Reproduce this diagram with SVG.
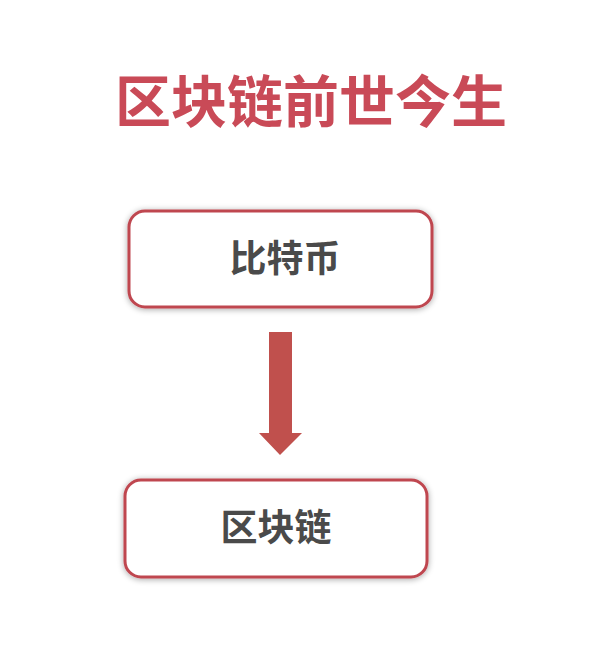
<svg xmlns="http://www.w3.org/2000/svg" width="607" height="662" viewBox="0 0 607 662">
<defs>
<style>
.title{font-family:"Noto Sans CJK SC","Noto Sans CJK JP",sans-serif;font-weight:bold;font-size:56px;fill:#c94a57;text-anchor:middle}
.box{fill:#ffffff;stroke:#bf4650;stroke-width:3}
.lbl{font-family:"Noto Sans CJK SC","Noto Sans CJK JP",sans-serif;font-weight:bold;font-size:37px;fill:#4a4a4a;text-anchor:middle}
.arrow{fill:#c0504d}
</style>
<filter id="sh" x="-10%" y="-20%" width="120%" height="140%">
<feGaussianBlur in="SourceAlpha" stdDeviation="3"/>
<feOffset dx="0" dy="1" result="b"/>
<feComponentTransfer><feFuncA type="linear" slope="0.35"/></feComponentTransfer>
<feMerge><feMergeNode/><feMergeNode in="SourceGraphic"/></feMerge>
</filter>
</defs>
<rect width="607" height="662" fill="#ffffff"/>
<text class="title" x="311" y="122">区块链前世今生</text>
<g id="node-bitcoin">
<rect class="box" x="129" y="211" width="303" height="96" rx="16" filter="url(#sh)"/>
<text class="lbl" x="285" y="272">比特币</text>
</g>
<g id="node-blockchain">
<rect class="box" x="125" y="480" width="302" height="97" rx="16" filter="url(#sh)"/>
<text class="lbl" x="276" y="541">区块链</text>
</g>
<g id="connectors">
<polygon class="arrow" points="269,332 292,332 292,433 302,433 280,455 259,433 269,433"/>
</g>
</svg>
